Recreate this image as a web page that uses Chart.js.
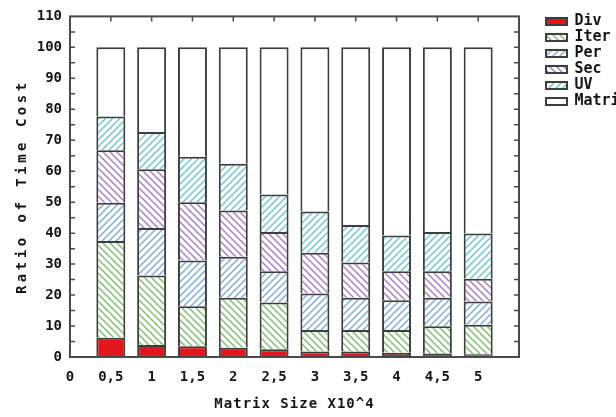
<!DOCTYPE html>
<html><head><meta charset="utf-8">
<script src="https://cdn.jsdelivr.net/npm/chart.js@4"></script>
<style>html,body{margin:0;padding:0;background:#fff;overflow:hidden}#wrap{width:616px;height:417px;position:relative}</style>
</head><body><div id="wrap"><canvas id="c" width="616" height="417"></canvas></div>
<script>
// ---- data ----
const matrixSizes = [0.5, 1, 1.5, 2, 2.5, 3, 3.5, 4, 4.5, 5];
const xTickLabels = ['0', '0,5', '1', '1,5', '2', '2,5', '3', '3,5', '4', '4,5', '5'];
const seriesNames = ['Div', 'Iter', 'Per', 'Sec', 'UV', 'Matrix'];
const divCost    = [6.2, 3.9, 3.5, 3.0, 2.5, 1.8, 1.8, 1.4, 1.1, 0.9];
const iterCost   = [31.3, 22.4, 12.9, 16.1, 15.1, 6.9, 6.9, 7.3, 8.8, 9.5];
const perCost    = [12.3, 15.4, 14.8, 13.3, 10.1, 11.8, 10.4, 9.6, 9.2, 7.5];
const secCost    = [17.0, 18.9, 18.8, 14.9, 12.7, 13.2, 11.4, 9.4, 8.6, 7.4];
const uvCost     = [10.9, 12.1, 14.7, 15.1, 12.1, 13.3, 12.1, 11.5, 12.7, 14.6];
const matrixCost = [22.3, 27.3, 35.3, 37.6, 47.5, 53.0, 57.4, 60.8, 59.6, 60.1];

const canvas = document.getElementById('c');
const ctx = canvas.getContext('2d');

function hatch(color, dir) {
  const w = 7, h = 7;
  const c = document.createElement('canvas'); c.width = w; c.height = h;
  const g = c.getContext('2d');
  g.fillStyle = '#ffffff'; g.fillRect(0, 0, w, h);
  g.strokeStyle = color; g.lineWidth = 1.3;
  g.beginPath();
  for (let k = -1; k <= 1; k++) {
    if (dir === '\\') { g.moveTo(k * w - w, -h); g.lineTo(k * w + 2 * w, 2 * h); }
    else { g.moveTo(k * w - w, 2 * h); g.lineTo(k * w + 2 * w, -h); }
  }
  g.stroke();
  return ctx.createPattern(c, 'repeat');
}

const fills = [
  '#e3161d',
  hatch('#72bd62', '\\'),
  hatch('#72a8da', '/'),
  hatch('#a872c8', '\\'),
  hatch('#62c4d4', '/'),
  '#ffffff'
];
const seriesValues = [divCost, iterCost, perCost, secCost, uvCost, matrixCost];

const datasets = seriesNames.map((name, s) => ({
  label: name,
  data: matrixSizes.map((x, i) => ({ x: x, y: seriesValues[s][i] })),
  backgroundColor: fills[s],
  borderColor: '#3d3d3d',
  borderWidth: 2,
  barPercentage: 0.71,
  categoryPercentage: 1
}));

const FONT = 'DejaVu Sans Mono';

const spacingPlugin = {
  id: 'titleSpacing',
  beforeDraw(chart) {
    [['x', 1], ['y', 3.5]].forEach(([id, sp]) => {
      const s = chart.scales[id];
      if (!s || s._spPatched) return;
      const orig = s.drawTitle.bind(s);
      s.drawTitle = function () {
        const c = this.ctx; c.save(); c.letterSpacing = sp + 'px'; orig(); c.restore();
      };
      s._spPatched = true;
    });
  }
};

const framePlugin = {
  id: 'frame',
  afterDatasetsDraw(chart) {
    const { ctx: c, chartArea: a, scales: { x, y } } = chart;
    c.save();
    c.strokeStyle = '#4a4a4a';
    c.lineWidth = 1.5;
    c.beginPath();
    for (let v = 5; v < 110; v += 5) {
      const py = y.getPixelForValue(v);
      c.moveTo(a.left, py); c.lineTo(a.left + 5, py);
      c.moveTo(a.right, py); c.lineTo(a.right - 5, py);
    }
    matrixSizes.forEach(v => {
      const px = x.getPixelForValue(v);
      c.moveTo(px, a.top); c.lineTo(px, a.top + 5);
    });
    c.stroke();
    c.lineWidth = 2;
    c.strokeRect(a.left, a.top, a.right - a.left, a.bottom - a.top);
    c.restore();
  }
};

new Chart(ctx, {
  type: 'bar',
  data: { datasets },
  options: {
    responsive: false,
    animation: false,
    layout: { padding: { top: 13, left: 0, right: 0, bottom: 0 } },
    scales: {
      x: {
        type: 'linear', stacked: true, min: 0, max: 5.5, offset: false,
        grid: { display: false, drawTicks: false, offset: false }, border: { display: false },
        ticks: {
          stepSize: 0.5, autoSkip: false, maxRotation: 0, padding: 12, color: '#151515',
          font: { family: FONT, weight: 'bold', size: 14 },
          callback: (v, i) => xTickLabels[i] ?? ''
        },
        title: { display: true, text: 'Matrix Size X10^4', color: '#151515',
          font: { family: FONT, weight: 'bold', size: 14 }, padding: { top: 0, bottom: 4 } },
        afterFit: s => { s.height = 60; }
      },
      y: {
        stacked: true, min: 0, max: 110,
        grid: { display: false, drawTicks: false }, border: { display: false },
        ticks: { stepSize: 10, padding: 8, color: '#151515',
          font: { family: FONT, weight: 'bold', size: 14 } },
        title: { display: true, text: 'Ratio of Time Cost', color: '#151515',
          font: { family: FONT, weight: 'bold', size: 14 }, padding: { top: 14, bottom: 0 } },
        afterFit: s => { s.width = 70; }
      },
      y2: {
        position: 'right', display: true, min: 0, max: 110,
        ticks: { display: false }, grid: { display: false, drawTicks: false }, border: { display: false },
        afterFit: s => { s.width = 26; }
      }
    },
    plugins: {
      legend: {
        position: 'right', align: 'start', maxWidth: 71,
        labels: { boxWidth: 21, boxHeight: 7, padding: 1, color: '#151515',
          font: { family: FONT, weight: 'bold', size: 15 } }
      },
      tooltip: { enabled: false }
    }
  },
  plugins: [spacingPlugin, framePlugin]
});
</script>
</body></html>
